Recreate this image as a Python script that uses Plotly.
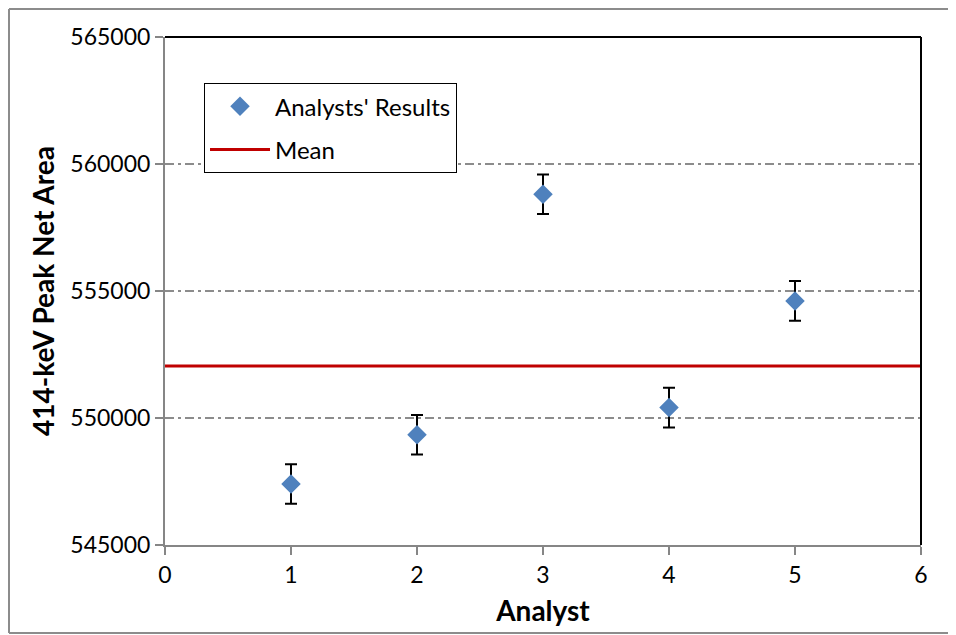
import plotly.graph_objects as go

analysts = [1, 2, 3, 4, 5]
results = [547400, 549340, 558810, 550410, 554610]
errors = [780, 780, 780, 780, 780]
mean_x = [0, 6]
mean_value = 552050
mean_y = [mean_value, mean_value]

FONT = "Lato"

fig = go.Figure()
fig.add_trace(go.Scatter(
    x=analysts, y=results, mode="markers", name="Analysts' Results", legendgroup="a",
    marker=dict(symbol="diamond", size=15, color="#4F81BD"),
    error_y=dict(type="data", array=errors, visible=True, color="black", thickness=2, width=6),
))
fig.add_trace(go.Scatter(
    x=mean_x, y=mean_y, mode="lines", name="Mean", legendgroup="b",
    line=dict(color="#C00000", width=3),
))

# page body has an 8px margin: figure is placed at (8, 8)
W, H = 948, 627
L, T, R, B = 157, 29, 35, 90
PW, PH = W - L - R, H - T - B

fig.update_layout(
    width=W, height=H,
    margin=dict(l=L, r=R, t=T, b=B),
    paper_bgcolor="white", plot_bgcolor="white",
    font=dict(family=FONT, size=23, color="black"),
    showlegend=True,
    legend=dict(x=0.0516, y=0.909, xanchor="left", yanchor="top",
                bordercolor="black", borderwidth=1, bgcolor="white",
                font=dict(size=24), tracegroupgap=9, itemwidth=60,
                traceorder="grouped"),
    xaxis=dict(range=[0, 6], dtick=1, tickmode="linear", showgrid=False, zeroline=False,
               showline=True, linecolor="#868686", linewidth=2,
               ticks="outside", ticklen=8, tickcolor="#868686", tickwidth=2,
               title=dict(text="<b>Analyst</b>", font=dict(size=28), standoff=15)),
    yaxis=dict(range=[545000, 565000], dtick=5000, tickmode="linear",
               tickformat="d", showgrid=True, gridcolor="#8C8C8C", griddash="9px,4px,3px,4px", gridwidth=2,
               zeroline=False, showline=True, linecolor="#868686", linewidth=2,
               ticks="outside", ticklen=8, tickcolor="#868686", tickwidth=2,
               title=dict(text="<b>414-keV Peak Net Area</b>", font=dict(size=28), standoff=8)),
)

# plot area top and right border (black)
fig.add_shape(type="line", xref="paper", yref="paper", x0=0, x1=1, y0=1, y1=1,
              line=dict(color="black", width=2))
fig.add_shape(type="line", xref="paper", yref="paper", x0=1, x1=1, y0=0, y1=1,
              line=dict(color="black", width=2))
# outer chart border (left, top, bottom visible)
bx0 = (1 - L) / PW
bx1 = (W + 20 - L) / PW
by0 = -(625 - (T + PH)) / PH
by1 = 1 + (T - 1) / PH
for x0, x1, y0, y1 in [(bx0, bx1, by1, by1), (bx0, bx1, by0, by0), (bx0, bx0, by0, by1)]:
    fig.add_shape(type="line", xref="paper", yref="paper", x0=x0, x1=x1, y0=y0, y1=y1,
                  line=dict(color="#8C8C8C", width=2), layer="below")

fig.write_html("out.html")
